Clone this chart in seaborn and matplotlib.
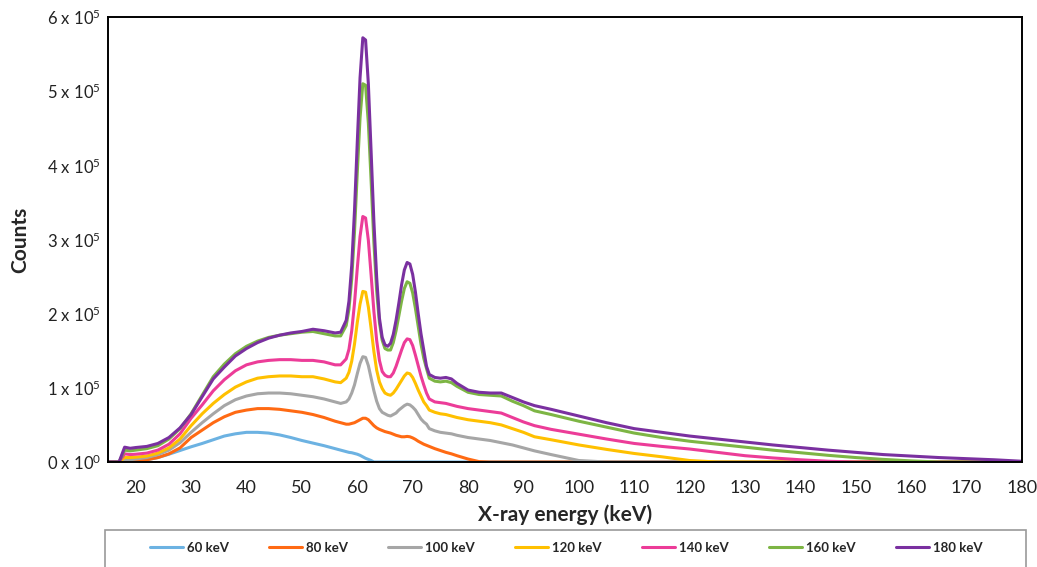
import matplotlib
matplotlib.use("Agg")
import pandas as pd
import matplotlib.pyplot as plt
import seaborn as sns
from matplotlib.ticker import MultipleLocator, FuncFormatter
from matplotlib.patches import Rectangle

# ---------------------------------------------------------------------------
# data (counts in thousands)
# ---------------------------------------------------------------------------
energy = [15, 16, 17, 18, 19, 20,
          22, 24, 26, 28, 30, 32, 34, 36, 38, 40, 42, 44, 46, 48, 50, 52, 54, 56,
          57, 58, 58.5, 59, 59.5, 60, 60.5, 61, 61.5, 62, 62.5, 63, 63.5, 64, 64.5, 65, 65.5,
          66, 66.5, 67, 67.5, 68, 68.5, 69, 69.5, 70, 70.5, 71, 71.5, 72, 72.5, 73, 74, 75, 76, 77, 78,
          80, 82, 84, 86, 88, 90, 92, 95,
          100, 105, 110, 115, 120, 125, 130, 135, 140, 145, 150, 155, 160, 165, 170, 175, 180]

kev_60 = [0, 0, 0, 0, 0.3, 1,
          3, 6, 10.5, 15.5, 20.5, 25, 30, 35, 38, 40, 40, 39, 36.5, 33, 29, 25.5, 22, 18,
          16, 14, 13, 12.5, 11.5, 10.5, 9, 7, 5, 3.5, 2, 0, 0, 0, 0, 0, 0,
          0, 0, 0, 0, 0, 0, 0, 0, 0, 0, 0, 0, 0, 0, 0, 0, 0, 0, 0, 0,
          0, 0, 0, 0, 0, 0, 0, 0,
          0, 0, 0, 0, 0, 0, 0, 0, 0, 0, 0, 0, 0, 0, 0, 0, 0]

kev_80 = [0, 0, 0, 1, 1, 1.5,
          3, 6, 11, 19, 33, 43, 53, 61, 67, 70, 72, 72, 71, 69, 67, 64, 60, 55,
          53, 51, 51, 52, 53, 55, 57, 59, 59, 57, 53, 49, 46, 44, 42.5, 41, 40,
          39, 37.5, 36, 35, 34, 34, 34.5, 34, 32.5, 30.5, 28, 26, 24, 22.5, 21, 18, 15.5, 13, 11, 8.5,
          4, 0.5, 0, 0, 0, 0, 0, 0,
          0, 0, 0, 0, 0, 0, 0, 0, 0, 0, 0, 0, 0, 0, 0, 0, 0]

kev_100 = [0, 0, 0, 3, 3, 4,
           6, 10, 16, 26, 40, 53, 65, 76, 84, 89, 92, 93, 93, 92, 90, 88, 85, 81,
           79, 81, 85, 93, 104, 119, 133, 142, 141, 130, 113, 96, 82, 72, 67, 65, 63,
           62, 64, 66, 70, 73, 76, 78, 77, 74, 70, 64, 58, 54, 51, 45, 42, 40, 39, 38, 36,
           33, 31, 29, 26, 23, 19, 15, 10,
           2, 0, 0, 0, 0, 0, 0, 0, 0, 0, 0, 0, 0, 0, 0, 0, 0]

kev_120 = [0, 0, 0, 6, 6, 6.5,
           8, 12, 19, 31, 49, 65, 79, 91, 101, 108, 113, 115, 116, 116, 115, 115, 112, 108,
           107, 113, 121, 136, 159, 188, 213, 230, 229, 209, 180, 149, 124, 108, 99, 93, 91,
           90, 93, 98, 104, 110, 116, 120, 119, 114, 106, 97, 89, 81, 76, 70, 67, 65, 64, 62, 60,
           57, 55, 53, 50, 45, 40, 34, 30,
           23, 17, 11.5, 7, 2, 0, 0, 0, 0, 0, 0, 0, 0, 0, 0, 0, 0]

kev_140 = [0, 0, 0, 11, 10, 10.5,
           12, 16, 24, 38, 59, 77, 96, 111, 123, 131, 135, 137, 138, 138, 137, 137, 135, 131,
           131, 139, 152, 177, 214, 261, 304, 331, 329, 299, 252, 203, 164, 137, 122, 117, 115,
           115, 120, 129, 140, 151, 161, 166, 165, 157, 144, 130, 116, 104, 93, 85, 81, 80, 79, 77, 75,
           72, 70, 68, 66, 60, 54, 49, 44,
           37.5, 31, 25, 21, 17.5, 13, 8.5, 5.5, 3, 1, 0, 0, 0, 0, 0, 0, 0]

kev_160 = [0, 0, 0, 16, 15, 16,
           18, 22, 31, 45, 65, 90, 115, 132, 146, 156, 163, 168, 171, 173, 175, 176, 173, 170,
           170, 184, 206, 247, 310, 390, 464, 510, 508, 457, 379, 296, 231, 188, 164, 153, 151,
           151, 161, 177, 197, 217, 234, 243, 241, 228, 207, 183, 159, 140, 126, 113, 109, 108, 109, 107, 102,
           94, 91, 90, 89, 82, 76, 69, 64,
           55, 47, 39, 33, 28, 24, 20, 16, 12.5, 9, 6, 3.5, 1.5, 0, 0, 0, 0]

kev_180 = [0, 0, 0, 20, 18.5, 19.5,
           21, 25, 33, 46, 64, 88, 112, 128, 143, 153, 161, 167, 171, 174, 176, 179, 177, 174,
           175, 191, 217, 265, 339, 431, 518, 572, 569, 510, 418, 324, 249, 194, 168, 158, 156,
           160, 172, 191, 214, 239, 259, 269, 267, 253, 229, 200, 173, 151, 129, 118, 114, 113, 114, 112, 106,
           97, 94, 93, 93, 87, 81, 76, 71,
           62, 53, 45, 40, 35, 31, 27, 23, 19.5, 16, 13, 10, 8, 6, 4.5, 3, 1]

series_names = ["60 keV", "80 keV", "100 keV", "120 keV", "140 keV", "160 keV", "180 keV"]
series_vals = [kev_60, kev_80, kev_100, kev_120, kev_140, kev_160, kev_180]
colors = ["#6CB2E2", "#FF6A13", "#A6A6A6", "#FFC000", "#EC3C98", "#7DB544", "#7A30A0"]

frames = []
for name, vals in zip(series_names, series_vals):
    frames.append(pd.DataFrame({"energy": energy,
                                "counts": [v * 1000 for v in vals],
                                "tube": name}))
df = pd.concat(frames, ignore_index=True)

# ---------------------------------------------------------------------------
# plot
# ---------------------------------------------------------------------------
sns.set_style("white")
plt.rcParams["font.family"] = ["Lato", "DejaVu Sans"]
plt.rcParams["mathtext.fontset"] = "custom"
plt.rcParams["mathtext.rm"] = "Lato"
plt.rcParams["mathtext.it"] = "Lato"

fig = plt.figure(figsize=(10.37, 5.67), dpi=100)
ax = fig.add_axes([108 / 1037, 1 - 462 / 567, (1022 - 108) / 1037, (462 - 17) / 567])

sns.lineplot(data=df, x="energy", y="counts", hue="tube", hue_order=series_names,
             palette=colors, linewidth=2.2, errorbar=None, estimator=None, ax=ax)

ax.set_xlim(15, 180)
ax.set_ylim(0, 6e5)

ax.xaxis.set_major_locator(MultipleLocator(10))
ax.xaxis.set_minor_locator(MultipleLocator(1))
ax.yaxis.set_major_locator(MultipleLocator(1e5))
ax.yaxis.set_minor_locator(MultipleLocator(2e4))

ax.set_xticks(range(20, 181, 10))
ax.yaxis.set_major_formatter(FuncFormatter(
    lambda v, p: f"{int(round(v / 1e5))} x 10$^{{{5 if v > 0 else 0}}}$"))

ax.tick_params(axis="x", which="major", direction="out", length=7, width=1.2,
               labelsize=13, pad=6)
ax.tick_params(axis="x", which="minor", direction="out", length=5, width=1.0)
ax.tick_params(axis="y", which="both", direction="in", length=7, width=1.2,
               labelsize=12, pad=5)
for lbl in ax.get_xticklabels() + ax.get_yticklabels():
    lbl.set_color("#222222")

for sp in ax.spines.values():
    sp.set_color("black")
    sp.set_linewidth(1.4)

ax.set_xlabel("X-ray energy (keV)", fontsize=15, fontweight="bold", labelpad=6)
ax.set_ylabel("Counts", fontsize=15, fontweight="bold", labelpad=12)

handles, labels = ax.get_legend_handles_labels()
ax.get_legend().remove()
fig.legend(handles, labels, loc="center", ncol=7, frameon=False,
           bbox_to_anchor=(566 / 1037, 1 - 548 / 567),
           prop={"weight": "bold", "size": 9.5},
           handlelength=2.5, handletextpad=0.3, columnspacing=3.05)

fig.add_artist(Rectangle((105 / 1037, -0.05), (1026 - 105) / 1037, 0.05 + (567 - 530) / 567,
                         transform=fig.transFigure, fill=False,
                         edgecolor="#9a9a9a", linewidth=1.2))

fig.savefig("out.png", dpi=100)
